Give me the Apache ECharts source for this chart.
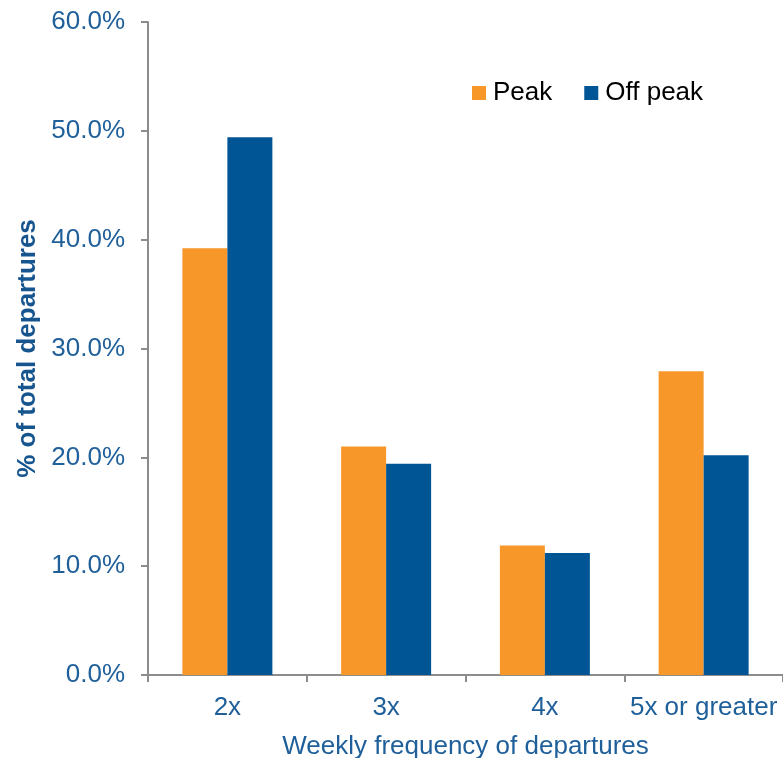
<!DOCTYPE html>
<html>
<head>
<meta charset="utf-8">
<script src="https://cdn.jsdelivr.net/npm/echarts@6/dist/echarts.min.js"></script>
<style>
  html, body { margin: 0; padding: 0; background: #ffffff; }
  #chart { width: 783px; height: 758px; }
</style>
</head>
<body>
<div id="chart"></div>
<script>
// Share of departures by weekly frequency, split into peak and off-peak
const categories = ['2x', '3x', '4x', '5x or greater'];
const peakValues = [39.2, 21.0, 11.9, 27.9];
const offPeakValues = [49.4, 19.4, 11.2, 20.2];
const seriesNames = ['Peak', 'Off peak'];

const axisBlue = '#1f5f9a';
const axisGray = '#8c8c8c';
const font = 'Liberation Sans, Arial, sans-serif';

const chart = echarts.init(document.getElementById('chart'), null, { renderer: 'canvas' });
chart.setOption({
  animation: false,
  backgroundColor: '#ffffff',
  grid: { left: 148, right: 0, top: 22, bottom: 83, containLabel: false, outerBoundsMode: 'none' },
  legend: {
    data: seriesNames,
    top: 75,
    left: 467,
    itemWidth: 14,
    itemHeight: 14,
    itemGap: 32,
    icon: 'rect',
    textStyle: { fontFamily: font, fontSize: 26, color: '#000000', padding: [0, 0, 0, 2] }
  },
  xAxis: {
    type: 'category',
    data: categories,
    name: 'Weekly frequency of departures',
    nameLocation: 'middle',
    nameGap: 59,
    nameTextStyle: { fontFamily: font, fontSize: 26, color: axisBlue },
    axisLine: { show: true, lineStyle: { color: axisGray, width: 2 } },
    axisTick: { show: true, length: 7, lineStyle: { color: axisGray, width: 2 } },
    axisLabel: { fontFamily: font, fontSize: 26, color: axisBlue, margin: 20, interval: 0 },
    splitLine: { show: false }
  },
  yAxis: {
    type: 'value',
    min: 0,
    max: 60,
    interval: 10,
    name: '% of total departures',
    nameLocation: 'middle',
    nameGap: 106,
    nameRotate: 90,
    nameTextStyle: { fontFamily: font, fontSize: 26, fontWeight: 'bold', color: '#17558f' },
    axisLine: { show: true, lineStyle: { color: axisGray, width: 2 } },
    axisTick: { show: true, length: 7, lineStyle: { color: axisGray, width: 2 } },
    axisLabel: {
      fontFamily: font, fontSize: 26, color: axisBlue, margin: 23,
      formatter: v => v.toFixed(1) + '%'
    },
    splitLine: { show: false }
  },
  series: [
    {
      name: seriesNames[0],
      type: 'bar',
      data: peakValues,
      barWidth: 45,
      barGap: '0%',
      itemStyle: { color: '#f7972a' }
    },
    {
      name: seriesNames[1],
      type: 'bar',
      data: offPeakValues,
      barWidth: 45,
      barGap: '0%',
      itemStyle: { color: '#005595' }
    }
  ]
});
</script>
</body>
</html>
